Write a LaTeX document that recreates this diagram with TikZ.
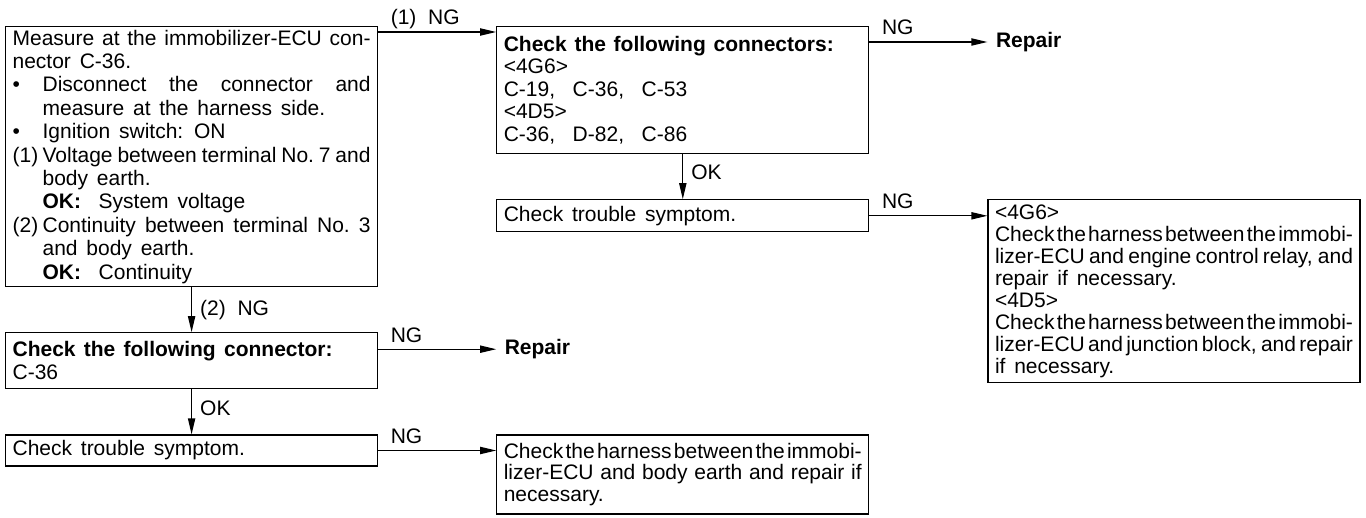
\documentclass[tikz,border=0pt]{standalone}
\usepackage{fontspec}
\setmainfont{Liberation Sans}
\usetikzlibrary{positioning,arrows.meta}
\newcommand{\itm}[1]{\par\hangindent=15pt\hangafter=1\noindent\makebox[15pt][l]{#1}}

\begin{document}
\begin{tikzpicture}[x=0.5pt, y=-0.5pt,
  font=\fontsize{10.5}{11}\selectfont, node distance=22.5pt and 59pt,
  >={Triangle[length=8pt,width=3.6pt]}, line width=0.6pt,
  lead/.style={font=\fontsize{10.5}{#1}\selectfont},
  box/.style={draw, text width=179pt, inner xsep=3.5pt, inner ysep=1pt, align=justify,
              execute at begin node={\spaceskip=4.4pt plus 3pt minus 3.8pt\tolerance=9999
                                     \hyphenpenalty=10000\parindent=0pt}},
  endnode/.style={inner xsep=4pt, font=\fontsize{10.5}{11}\selectfont\bfseries},
  lbl/.style={inner sep=0pt, anchor=base west, xshift=6pt, yshift=3.5pt},
  vlbl/.style={inner sep=0pt, anchor=west, xshift=4pt}]

\useasboundingbox (0,0) rectangle (1366,518);

% left column
\node (meas) [box, lead=11.7pt, anchor=north west, minimum height=130pt] at (5,26)
  {Measure at the immobilizer-ECU con-\linebreak nector C-36.%
   \itm{\textbullet}Disconnect the connector and\linebreak measure at the harness side.%
   \itm{\textbullet}Ignition switch: ON%
   \itm{(1)}Voltage between terminal No.~7 and\linebreak body earth.\\
   \textbf{OK:}\ \ System voltage%
   \itm{(2)}Continuity between terminal No.~3\linebreak and body earth.\\
   \textbf{OK:}\ \ Continuity\par};
\node (conn2) [box, lead=11.5pt, below=of meas, minimum height=28pt]
  {\makebox[160pt][s]{\bfseries Check the following connector:}\\ C-36};
\node (symp2) [box, below=of conn2, minimum height=15.5pt] {Check\ trouble\ symptom.};

% middle column
\node (conn1) [box, lead=11.25pt, right=59pt of meas.north east, anchor=north west, minimum height=63.5pt]
  {\makebox[165pt][s]{\bfseries Check the following connectors:}\\
   <4G6>\\ C-19,\ \ C-36,\ \ C-53\\ <4D5>\\ C-36,\ \ D-82,\ \ C-86};
\node (symp1) [box, below=of conn1, minimum height=16pt] {Check\ trouble\ symptom.};
\node (hrn2) [box, lead=10.75pt, right=59pt of symp2.north east, anchor=north west, minimum height=39.5pt]
  {Check the harness between the immobi-\linebreak lizer-ECU and body earth and repair if\linebreak necessary.};

% right column
\node (hrn1) [box, right=59pt of symp1.north east, anchor=north west, minimum height=91.5pt]
  {<4G6>\\ Check the harness between the immobi-\linebreak lizer-ECU and engine control relay, and\linebreak
   repair if necessary.\\ <4D5>\\
   Check the harness between the immobi-\linebreak lizer-ECU and junction block, and repair\linebreak if necessary.};
\node (rep1) [endnode, right=59pt of conn1.north east, yshift=-8pt] {Repair};
\node (rep2) [endnode, right=59pt of conn2.north east, yshift=-8.5pt] {Repair};

\draw[->] ([yshift=-3pt]meas.north east) -- ([yshift=-3pt]conn1.north west)
  node[lbl, pos=0] {(1)\ \ NG};
\draw[->] (conn1.east |- rep1) -- (rep1) node[lbl, pos=0] {NG};
\draw[->] (conn2.east |- rep2) -- (rep2) node[lbl, pos=0] {NG};
\draw[->] (symp1) -- (hrn1.west |- symp1) node[lbl, pos=0] {NG};
\draw[->] (symp2) -- (hrn2.west |- symp2) node[lbl, pos=0] {NG};
\draw[->] (meas) -- (conn2) node[vlbl, midway] {(2)\ \ NG};
\foreach \a/\b in {conn2/symp2, conn1/symp1}
  \draw[->] (\a) -- (\b) node[vlbl, midway, yshift=2pt] {OK};
\end{tikzpicture}
\end{document}
